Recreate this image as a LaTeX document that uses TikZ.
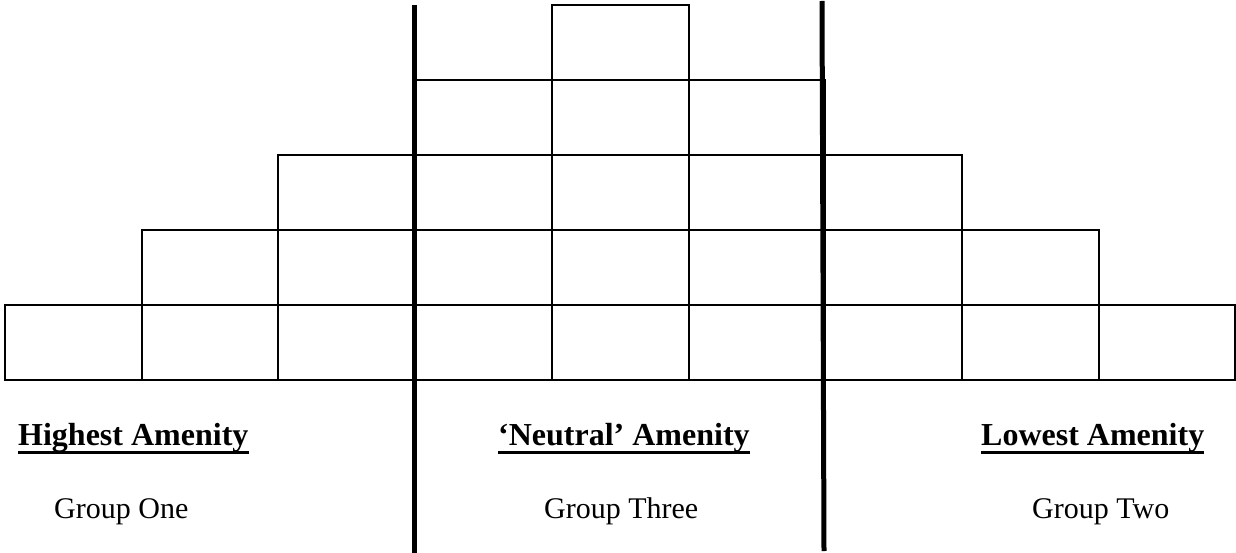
\documentclass[tikz,border=0pt]{standalone}
\usepackage{fontspec}
\setmainfont{Liberation Serif}
\begin{document}
\begin{tikzpicture}[x=1pt,y=-1pt,
  cell/.style={draw, line width=2pt, minimum width=136.7pt, minimum height=75pt, inner sep=0pt, outer sep=0pt},
  divider/.style={line width=5pt},
  heading/.style={font=\fontsize{32}{36}\selectfont\bfseries, inner sep=0pt, anchor=base west},
  group/.style={font=\fontsize{30}{36}\selectfont, inner sep=0pt, anchor=base west},
  uline/.style={line width=3pt}]
\path[use as bounding box, fill=white] (0,0) rectangle (1236,553);
\foreach \c/\h in {1/1,2/2,3/3,4/4,5/5,6/4,7/3,8/2,9/1} {
  \foreach \r in {1,...,\h} {
    \node[cell] (b\c-\r) at ({5+136.7*(\c-1)+68.35},{380-75*\r+37.5}) {};
  }
}
% small overshoot of the top line of column 4
\coordinate (ov) at ([xshift=11pt]b4-4.north east);
\draw[line width=2pt] (b4-4.north east) -- (ov);
% thick dividers
\coordinate (d1t) at (414.5,5);
\coordinate (d1b) at (414.5,553);
\coordinate (d2t) at (822,1);
\coordinate (d2b) at (824,551);
\draw[divider] (d1t) -- (d1b);
\draw[divider] (d2t) -- (d2b);
% headings
\node[heading] (h1) at (18,445) {Highest Amenity};
\node[heading] (h2) at (498,445) {‘Neutral’ Amenity};
\node[heading] (h3) at (981,445) {Lowest Amenity};
\foreach \n in {h1,h2,h3} {
  \draw[uline] ([yshift=-7pt]\n.base west) -- ([yshift=-7pt]\n.base east);
}
\node[group] (g1) at (54,518) {Group One};
\node[group] (g2) at (544,518) {Group Three};
\node[group] (g3) at (1032,518) {Group Two};
\end{tikzpicture}
\end{document}
